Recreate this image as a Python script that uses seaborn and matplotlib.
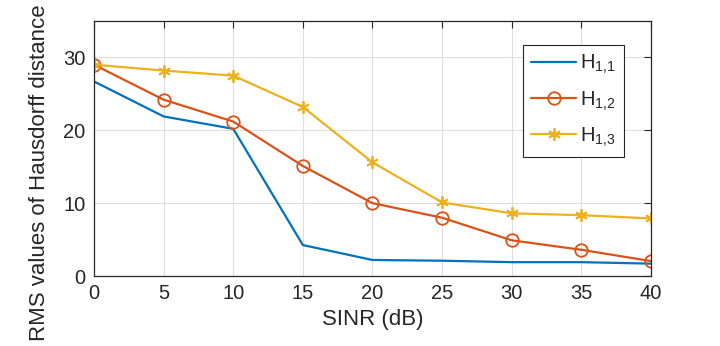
import pandas as pd
import seaborn as sns
import matplotlib.pyplot as plt

sinr = [0, 5, 10, 15, 20, 25, 30, 35, 40]
h11 = [26.7, 21.9, 20.2, 4.25, 2.2, 2.1, 1.9, 1.9, 1.7]
h12 = [29.0, 24.2, 21.2, 15.1, 10.0, 8.0, 4.9, 3.6, 2.05]
h13 = [29.0, 28.2, 27.5, 23.2, 15.6, 10.1, 8.6, 8.35, 7.9]
labels = ['$\\mathregular{H_{1{,}1}}$', '$\\mathregular{H_{1{,}2}}$', '$\\mathregular{H_{1{,}3}}$']

df = pd.DataFrame({
    'SINR': sinr * 3,
    'RMS': h11 + h12 + h13,
    'series': [labels[0]] * 9 + [labels[1]] * 9 + [labels[2]] * 9,
})

sns.set_style('whitegrid')
plt.rcParams['font.family'] = ['Liberation Sans', 'DejaVu Sans']
plt.rcParams['mathtext.fontset'] = 'custom'
plt.rcParams['mathtext.rm'] = 'Liberation Sans'

colors = ['#0072BD', '#D95319', '#EDB120']
markers = {labels[0]: '', labels[1]: 'o', labels[2]: (6, 2, 0)}

fig = plt.figure(figsize=(7.2, 3.46), dpi=100)
ax = fig.add_axes([0.1306, 0.2023, 0.7734, 0.737])

for lab, col in zip(labels, colors):
    sub = df[df['series'] == lab]
    sns.lineplot(data=sub, x='SINR', y='RMS', ax=ax, color=col, label=lab,
                 marker=markers[lab], markersize=9, markerfacecolor='none',
                 markeredgecolor=col, markeredgewidth=1.3, linewidth=1.6)

ax.set_xlim(0, 40)
ax.set_ylim(0, 35)
ax.set_xticks(sinr)
ax.set_yticks([0, 10, 20, 30])
ax.grid(True, color='#dedede', linewidth=0.8)
for s in ax.spines.values():
    s.set_color('#262626')
    s.set_linewidth(0.9)
ax.tick_params(direction='in', top=True, right=True, length=5, width=0.8,
               colors='#262626', labelsize=14.5, pad=6)
ax.set_xlabel('SINR (dB)', fontsize=16, color='#262626', labelpad=4)
ax.set_ylabel('RMS values of Hausdorff distance', fontsize=16, color='#262626')
ax.yaxis.set_label_coords(-0.079, 0.404)

leg = ax.legend(loc='upper right', bbox_to_anchor=(0.951, 0.906), fontsize=14.5,
                frameon=True, fancybox=False, edgecolor='#262626',
                framealpha=1, handlelength=2.2, handletextpad=0.2,
                borderpad=0.4, labelspacing=0.65, borderaxespad=0)
leg.get_frame().set_linewidth(0.8)

fig.savefig('out.png', dpi=100)
